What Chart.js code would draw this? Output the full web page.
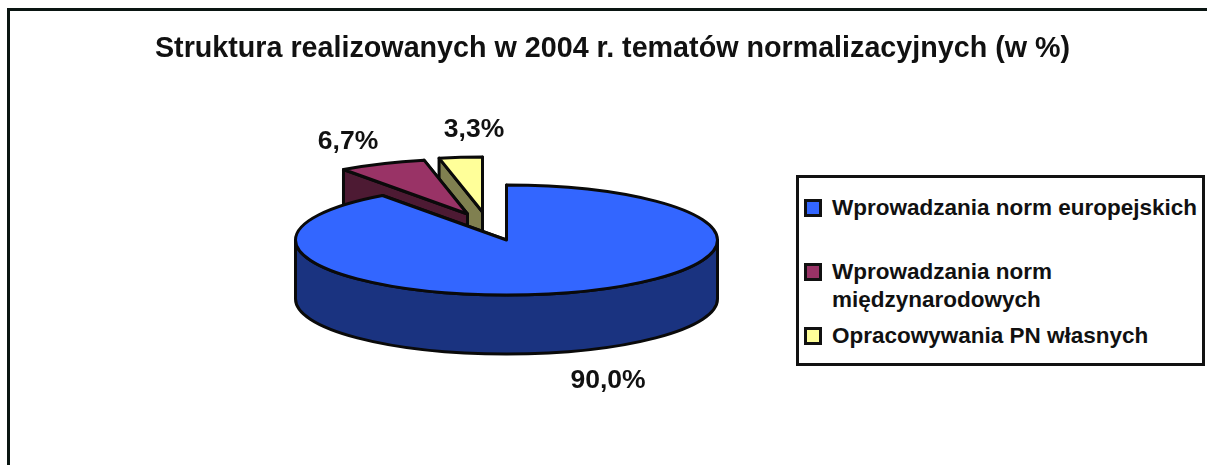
<!DOCTYPE html>
<html>
<head>
<meta charset="utf-8">
<script src="https://cdn.jsdelivr.net/npm/chart.js@4/dist/chart.umd.js"></script>
<style>
  html, body { margin: 0; padding: 0; background: #fff; overflow: hidden; }
  #frame { position: absolute; left: 7px; top: 8px; width: 1300px; height: 600px; border: 3px solid #0a1512; box-sizing: border-box; }
  #chart-wrap { position: absolute; left: 18px; top: 0; width: 1189px; height: 465px; }
  #legend { position: absolute; left: 796px; top: 175px; width: 409px; height: 191px; box-sizing: border-box; border: 3px solid #111;
    font: bold 22.5px "Liberation Sans", Arial, sans-serif; color: #111; background: #fff; }
  .item { position: absolute; left: 5px; line-height: 28px; padding-left: 28px; white-space: nowrap; }
  .swatch { position: absolute; left: 0; top: 5px; width: 18px; height: 18px; box-sizing: border-box; border: 3px solid #111; }
</style>
</head>
<body>
<div id="frame"></div>
<div id="chart-wrap"><canvas id="pie" width="1189" height="465"></canvas></div>
<div id="legend"></div>
<script>
const categories = ['Wprowadzania norm europejskich', 'Wprowadzania norm międzynarodowych', 'Opracowywania PN własnych'];
const legendLines = [['Wprowadzania norm europejskich'], ['Wprowadzania norm', 'międzynarodowych'], ['Opracowywania PN własnych']];
const values = [90.0, 6.7, 3.3];
const valueLabels = ['90,0%', '6,7%', '3,3%'];
const topColors = ['#3366ff', '#993366', '#ffff99'];
const sideColors = ['#1a3380', '#4d1a33', '#808050'];

// how the flat pie is laid over in "3D"
const pieCentre = { x: 488.5, y: 240 };
const pieRadii = { x: 211, y: 55 };
const pieDepth = 59;
const sliceShift = [{ x: 0, y: 0 }, { x: -39, y: -26 }, { x: -24, y: -28 }];
const labelPos = [{ x: 590, y: 381 }, { x: 330, y: 142 }, { x: 456, y: 130 }];
const legendTops = [16, 80, 144];

const pie3d = {
  id: 'pie3d',
  beforeDatasetsDraw(chart) {
    const ctx = chart.ctx;
    const arcs = chart.getDatasetMeta(0).data;
    ctx.save();
    ctx.lineWidth = 3;
    ctx.lineJoin = 'round';
    ctx.strokeStyle = '#0a0a0a';

    // back to front so the big slice covers the walls behind it
    [2, 1, 0].forEach((i) => {
      const a = arcs[i];
      const cx = pieCentre.x + sliceShift[i].x;
      const cy = pieCentre.y + sliceShift[i].y;
      const start = a.startAngle;
      const end = a.endAngle;
      const pt = (ang) => ({ x: cx + Math.cos(ang) * pieRadii.x, y: cy + Math.sin(ang) * pieRadii.y });

      // cut walls
      [end, start].forEach((ang) => {
        const p = pt(ang);
        ctx.beginPath();
        ctx.moveTo(cx, cy);
        ctx.lineTo(p.x, p.y);
        ctx.lineTo(p.x, p.y + pieDepth);
        ctx.lineTo(cx, cy + pieDepth);
        ctx.closePath();
        ctx.fillStyle = sideColors[i];
        ctx.fill();
        ctx.stroke();
      });

      // rim: only the part facing the viewer (sin > 0)
      const two = Math.PI * 2;
      let s = start, e = end;
      while (s >= Math.PI) { s -= two; e -= two; }
      while (s < -Math.PI) { s += two; e += two; }
      const rimFrom = Math.max(s, 0);
      const rimTo = Math.min(e, Math.PI);
      if (rimTo > rimFrom) {
        ctx.beginPath();
        ctx.ellipse(cx, cy, pieRadii.x, pieRadii.y, 0, rimFrom, rimTo);
        ctx.ellipse(cx, cy + pieDepth, pieRadii.x, pieRadii.y, 0, rimTo, rimFrom, true);
        ctx.closePath();
        ctx.fillStyle = sideColors[i];
        ctx.fill();
        ctx.stroke();
      }

      // top face
      ctx.beginPath();
      ctx.moveTo(cx, cy);
      ctx.ellipse(cx, cy, pieRadii.x, pieRadii.y, 0, start, end);
      ctx.closePath();
      ctx.fillStyle = topColors[i];
      ctx.fill();
      ctx.stroke();
    });

    // value labels
    ctx.font = 'bold 26.5px "Liberation Sans", Arial, sans-serif';
    ctx.textAlign = 'center';
    ctx.textBaseline = 'middle';
    valueLabels.forEach((t, i) => {
      ctx.fillStyle = '#111';
      ctx.fillText(t, labelPos[i].x, labelPos[i].y);
    });
    ctx.restore();
    return false;
  }
};

new Chart(document.getElementById('pie'), {
  type: 'pie',
  data: {
    labels: categories,
    datasets: [{ data: values, backgroundColor: topColors }]
  },
  options: {
    responsive: false,
    animation: false,
    rotation: 0,
    layout: { padding: 0 },
    plugins: {
      legend: { display: false },
      tooltip: { enabled: false },
      title: {
        display: true,
        text: 'Struktura realizowanych w 2004 r. tematów normalizacyjnych (w %)',
        color: '#111',
        font: { family: '"Liberation Sans", Arial, sans-serif', size: 28.7, weight: 'bold' },
        padding: { top: 32, bottom: 0 }
      }
    }
  },
  plugins: [pie3d]
});

// legend is plain html so the long entry can wrap like in the original
const legendBox = document.getElementById('legend');
legendLines.forEach((lines, i) => {
  const item = document.createElement('div');
  item.className = 'item';
  item.style.top = legendTops[i] + 'px';
  item.innerHTML = '<span class="swatch" style="background:' + topColors[i] + '"></span>' + lines.join('<br>');
  legendBox.appendChild(item);
});
</script>
</body>
</html>
